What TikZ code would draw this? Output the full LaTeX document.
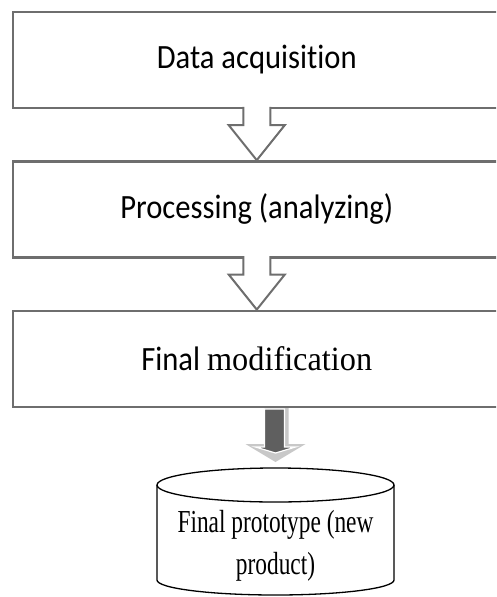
\documentclass[tikz,border=0pt]{standalone}
\usepackage{fontspec}
\usetikzlibrary{calc,positioning}
\newfontfamily\stagefont[FakeStretch=0.9,Ligatures=NoCommon]{Carlito}
\newfontfamily\modfont[FakeStretch=0.95]{Liberation Serif}
\newfontfamily\protofont[FakeStretch=0.73]{Liberation Serif}
\definecolor{linegray}{HTML}{6E6E6E}
\definecolor{arrowdark}{HTML}{5F5F5F}
\definecolor{arrowlight}{HTML}{C8C8C8}

\tikzset{
    stage/.style={rectangle, draw=linegray, line width=2.4pt, minimum width=488pt,
        minimum height=96pt, inner sep=0pt, font=\stagefont\fontsize{34}{40}\selectfont},
    hollow/.style={draw=linegray, line width=2pt, fill=white, line join=miter},
    prototext/.style={align=center, inner sep=0pt, font=\protofont\fontsize{32}{42}\selectfont},
    drum/.style={draw=black, line width=1.3pt}
}

\begin{document}
\begin{tikzpicture}[node distance=51pt]
    \useasboundingbox (0,0) rectangle (496pt,-597pt);
    \clip (0,0) rectangle (496pt,-597pt);

    \node (acq) [stage] at (256.75pt,-60pt) {Data acquisition};
    \node (proc) [stage, below=of acq] {Processing (analyzing)};
    \node (mod) [stage, below=of proc] {{\stagefont Final} {\modfont modification}};

    % the prototype drum
    \coordinate (drumtop) at (275.5pt,-485pt);
    \draw[drum] (drumtop) ellipse [x radius=118.5pt, y radius=17pt];
    \draw[drum] ($(drumtop)+(-118.5pt,0)$) -- ++(0,-95pt)
        arc[start angle=180, end angle=360, x radius=118.5pt, y radius=15pt] -- ++(0,95pt);
    \node (proto) [prototext] at (275.5pt,-546pt) {Final prototype (new\\product)};

    % hollow arrows between the stages
    \draw[hollow] ($(acq.south)+(-13.5pt,2.4pt)$) |- ($(proc.north)+(-28pt,35pt)$)
        -- (proc.north) -- ($(proc.north)+(28pt,35pt)$) -| ($(acq.south)+(13.5pt,2.4pt)$);
    \draw[hollow] ($(proc.south)+(-13.5pt,2.4pt)$) |- ($(mod.north)+(-28pt,35pt)$)
        -- (mod.north) -- ($(mod.north)+(28pt,35pt)$) -| ($(proc.south)+(13.5pt,2.4pt)$);

    % filled arrow down to the prototype
    \coordinate (a3) at (drumtop |- mod.south);
    \fill[arrowlight] ($(a3)+(-11pt,0)$) -- ($(a3)+(-11pt,-36pt)$) -- ($(a3)+(-30pt,-36pt)$)
        -- ($(drumtop)+(0,23pt)$) -- ($(a3)+(30pt,-36pt)$) -- ($(a3)+(13pt,-36pt)$)
        -- ($(a3)+(13pt,0)$) -- cycle;
    \filldraw[fill=arrowdark, draw=white, line width=1.2pt]
        ($(a3)+(-11pt,-1pt)$) -- ($(a3)+(-11pt,-39pt)$) -- ($(a3)+(-20pt,-39pt)$)
        -- ($(drumtop)+(0,32pt)$) -- ($(a3)+(20pt,-39pt)$) -- ($(a3)+(9pt,-39pt)$)
        -- ($(a3)+(9pt,-1pt)$) -- cycle;
\end{tikzpicture}
\end{document}
